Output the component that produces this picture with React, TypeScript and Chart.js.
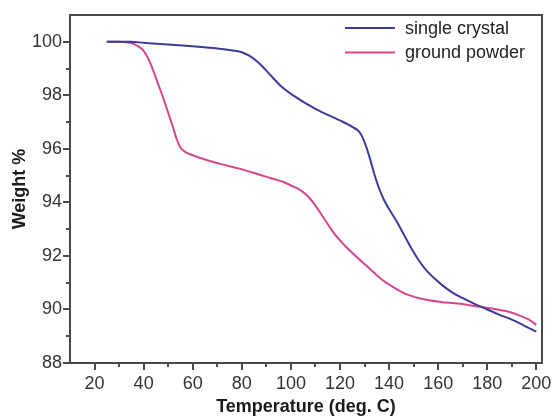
import React, { useEffect, useRef } from "react";
import { Chart, registerables } from "chart.js";

Chart.register(...registerables);

// Single crystal TGA curve
const crystalTemp = [25, 30, 35, 40, 50, 60, 70, 75, 80, 83, 86, 89, 92, 96, 102, 110, 120, 125, 128, 130, 132, 134, 136, 138, 140, 143, 146, 149, 152, 155, 158, 162, 166, 170, 175, 180, 185, 190, 195, 200];
const crystalWeight = [100, 100, 100, 99.96, 99.9, 99.83, 99.75, 99.69, 99.61, 99.48, 99.28, 99.02, 98.72, 98.34, 97.93, 97.49, 97.06, 96.82, 96.62, 96.25, 95.7, 95.05, 94.5, 94.08, 93.75, 93.3, 92.8, 92.3, 91.85, 91.48, 91.2, 90.88, 90.62, 90.42, 90.2, 90.0, 89.8, 89.62, 89.4, 89.17];

// Ground powder TGA curve
const powderTemp = [25, 30, 33, 35, 38, 40, 42, 44, 46, 48, 50, 52, 53.5, 55, 57, 60, 65, 72, 79, 85, 92, 97, 100, 104, 107, 110, 113, 116, 119, 124, 128, 133, 137, 142, 147, 154, 161, 168, 177, 183, 188, 193, 197, 200];
const powderWeight = [100, 100, 99.98, 99.95, 99.82, 99.66, 99.35, 98.9, 98.4, 97.9, 97.35, 96.8, 96.35, 96.05, 95.88, 95.76, 95.6, 95.42, 95.26, 95.1, 94.9, 94.76, 94.63, 94.45, 94.22, 93.88, 93.47, 93.05, 92.68, 92.2, 91.86, 91.45, 91.12, 90.82, 90.57, 90.38, 90.28, 90.22, 90.1, 90.02, 89.93, 89.78, 89.62, 89.42];

const seriesLabels = ["single crystal", "ground powder"];
const seriesColors = ["#3d3b97", "#d6458e"];

const xMin = 10;
const xMax = 202.3;
const yMin = 88;
const yMax = 101;

const FONT = "'Liberation Sans', Arial, Helvetica, sans-serif";

const framePlugin = {
  id: "frameTicks",
  afterDraw(chart: any) {
    const { ctx, chartArea: a, scales } = chart;
    const xs = scales.x;
    const ys = scales.y;
    ctx.save();
    ctx.strokeStyle = "#4a4a4a";
    ctx.lineWidth = 2;
    ctx.strokeRect(a.left, a.top, a.right - a.left, a.bottom - a.top);
    ctx.lineWidth = 2;
    ctx.beginPath();
    xs.ticks.forEach((t: any) => {
      const v = t.value;
      if (v < 20 || v > 200) return;
      const px = Math.round(xs.getPixelForValue(v));
      const len = v % 20 === 0 ? 7 : 4;
      ctx.moveTo(px, a.bottom);
      ctx.lineTo(px, a.bottom + len);
    });
    ys.ticks.forEach((t: any) => {
      const v = t.value;
      if (v > 100) return;
      const py = Math.round(ys.getPixelForValue(v));
      const len = v % 2 === 0 ? 7 : 4;
      ctx.moveTo(a.left, py);
      ctx.lineTo(a.left - len, py);
    });
    ctx.stroke();
    ctx.restore();
  },
};

const legendPlugin = {
  id: "insideLegend",
  afterDraw(chart: any) {
    const { ctx, chartArea: a } = chart;
    const rows = [a.top + 13, a.top + 37.5];
    ctx.save();
    ctx.font = `18px ${FONT}`;
    ctx.textBaseline = "middle";
    ctx.textAlign = "left";
    chart.data.datasets.forEach((ds: any, i: number) => {
      const y = rows[i];
      ctx.strokeStyle = ds.borderColor;
      ctx.lineWidth = 2;
      ctx.beginPath();
      ctx.moveTo(a.right - 197, y);
      ctx.lineTo(a.right - 147, y);
      ctx.stroke();
      ctx.fillStyle = "#222";
      ctx.fillText(ds.label, a.right - 137, y + 1);
    });
    ctx.restore();
  },
};

export default function App() {
  const ref = useRef<HTMLCanvasElement>(null);
  useEffect(() => {
    document.body.style.margin = "0";
    const canvas = ref.current!;
    const chart = new Chart(canvas, {
      type: "line",
      data: {
        datasets: [
          {
            label: seriesLabels[0],
            data: crystalTemp.map((t, i) => ({ x: t, y: crystalWeight[i] })),
            borderColor: seriesColors[0],
            borderWidth: 2,
            pointRadius: 0,
            tension: 0.4,
            cubicInterpolationMode: "monotone",
            fill: false,
          },
          {
            label: seriesLabels[1],
            data: powderTemp.map((t, i) => ({ x: t, y: powderWeight[i] })),
            borderColor: seriesColors[1],
            borderWidth: 2,
            pointRadius: 0,
            tension: 0.4,
            cubicInterpolationMode: "monotone",
            fill: false,
          },
        ],
      },
      plugins: [framePlugin, legendPlugin],
      options: {
        animation: false,
        responsive: false,
        devicePixelRatio: 1,
        layout: { padding: { top: 15, right: 12, left: 0, bottom: 0 } },
        plugins: {
          legend: { display: false },
          tooltip: { enabled: false },
        },
        scales: {
          x: {
            type: "linear",
            min: xMin,
            max: xMax,
            grid: { display: false, drawTicks: false },
            border: { display: true, color: "#4a4a4a", width: 2 },
            ticks: {
              stepSize: 10,
              includeBounds: false,
              autoSkip: false,
              maxRotation: 0,
              padding: 10,
              color: "#333",
              font: { family: FONT, size: 18 },
              callback: (v: any) => (Number(v) % 20 === 0 && Number(v) >= 20 ? String(v) : ""),
            },
            title: {
              display: true,
              text: "Temperature (deg. C)",
              color: "#1a1a1a",
              font: { family: FONT, size: 18, weight: "bold", lineHeight: 1 },
              padding: { top: 0, bottom: 0 },
            },
            afterFit: (s: any) => {
              s.height = 53;
              s.paddingLeft = 0;
              s.paddingRight = 0;
            },
          },
          y: {
            type: "linear",
            min: yMin,
            max: yMax,
            grid: { display: false, drawTicks: false },
            border: { display: true, color: "#4a4a4a", width: 2 },
            ticks: {
              stepSize: 1,
              includeBounds: false,
              autoSkip: false,
              padding: 8,
              color: "#333",
              font: { family: FONT, size: 18 },
              callback: (v: any) => (Number(v) % 2 === 0 ? String(v) : ""),
            },
            title: {
              display: true,
              text: "Weight %",
              color: "#1a1a1a",
              font: { family: FONT, size: 18, weight: "bold", lineHeight: 1.2 },
              padding: { top: 9, bottom: 0 },
            },
            afterFit: (s: any) => {
              s.width = 70;
              s.paddingTop = 0;
              s.paddingBottom = 0;
            },
          },
        },
      },
    } as any);
    return () => chart.destroy();
  }, []);
  return <canvas ref={ref} width={554} height={416} style={{ display: "block" }} />;
}
